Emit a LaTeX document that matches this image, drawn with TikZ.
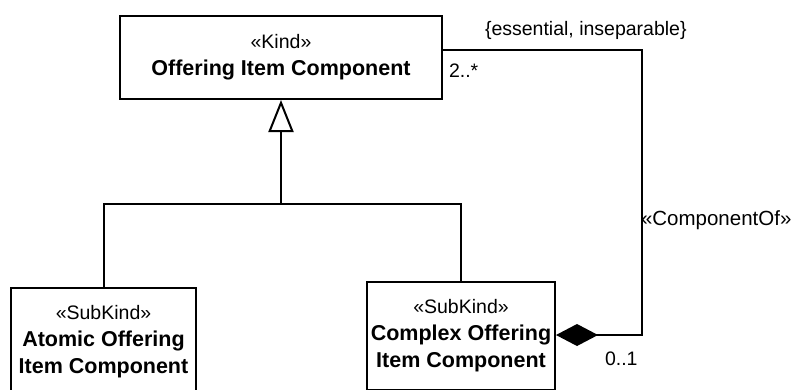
\documentclass[tikz,border=0pt]{standalone}
\usepackage{fontspec}
\setmainfont{Liberation Sans}
\usetikzlibrary{arrows.meta}
\newcommand\clsname[1]{{\fontsize{21.5}{27}\selectfont\bfseries #1}}
\begin{document}
\begin{tikzpicture}[x=1pt, y=-1pt, line join=miter, line width=2pt,
	font=\fontsize{19.5}{27}\selectfont,
	classbox/.style={draw, rectangle, inner sep=0pt, align=center},
	lbl/.style={inner sep=0pt, anchor=base west},
	gen/.style={-{Triangle[open, length=32pt, width=25pt]}},
	comp/.style={{Diamond[length=42pt, width=22pt]}-}]
	\useasboundingbox (0,0) rectangle (802,389);
	\clip (0,0) rectangle (802,389);
	% classes
	\node[classbox, minimum width=322pt, minimum height=83pt] (oic) at (281,57.5)
		{\guillemotleft Kind\guillemotright\\ \clsname{Offering Item Component}};
	\node[classbox, anchor=north, minimum width=185pt, minimum height=108pt] (aoic) at (103.5,287)
		{\guillemotleft SubKind\guillemotright\\ \clsname{Atomic Offering}\\ \clsname{Item Component}};
	\node[classbox, anchor=north, minimum width=188pt, minimum height=108pt] (coic) at (461,281)
		{\guillemotleft SubKind\guillemotright\\ \clsname{Complex Offering}\\ \clsname{Item Component}};
	% generalization
	\coordinate (j) at (281,204);
	\draw (aoic.north) |- (j) -| (coic.north);
	\draw[gen] (j) -- (oic.south);
	% componentOf
	\coordinate (c1) at (642,50);
	\coordinate (c2) at (642,335);
	\draw[comp] (coic.east |- c2) -- (c2) -- (c1) -- (oic.east |- c1);
	\node[lbl] (cons) at (484,35) {\{essential, inseparable\}};
	\node[lbl] (m1) at (448,77) {2..*};
	\node[lbl] (st) at (640,225) {\fontsize{20.5}{27}\selectfont\guillemotleft ComponentOf\guillemotright};
	\node[lbl] (m2) at (604,365) {0..1};
\end{tikzpicture}
\end{document}
